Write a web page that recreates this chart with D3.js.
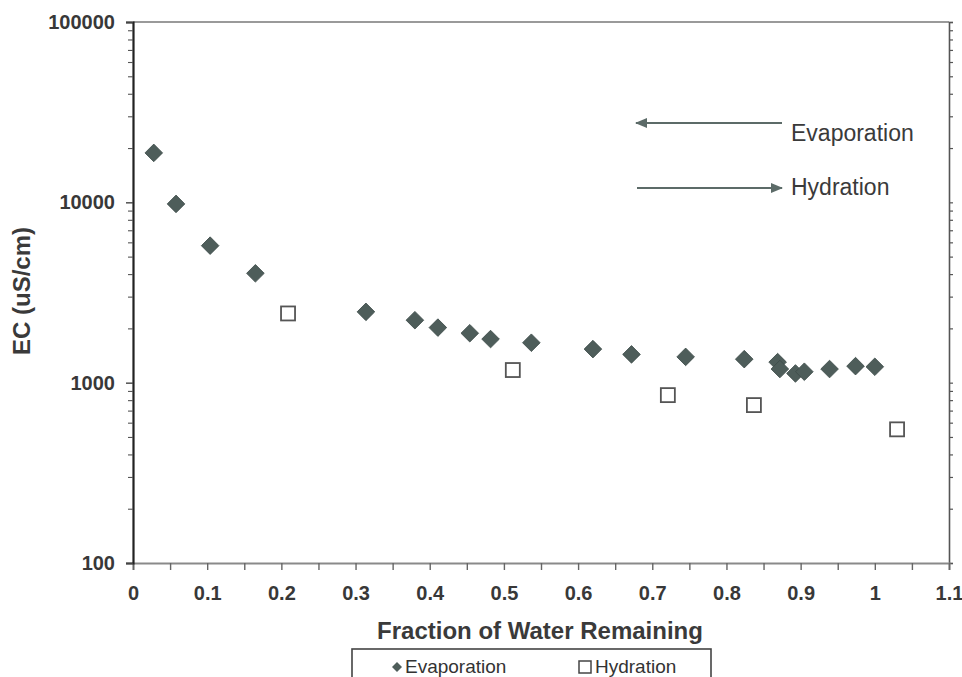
<!DOCTYPE html>
<html>
<head>
<meta charset="utf-8">
<script src="https://cdn.jsdelivr.net/npm/d3@7"></script>
<style>
  html, body { margin: 0; padding: 0; background: #fff; }
  svg { display: block; font-family: "Liberation Sans", Arial, sans-serif; }
</style>
</head>
<body>
<svg id="chart" width="962" height="677"></svg>
<script>
// ---- data ----
const evapX = [0.028, 0.058, 0.104, 0.165, 0.314, 0.380, 0.411, 0.454, 0.482, 0.537, 0.620, 0.672, 0.745, 0.824, 0.869, 0.872, 0.893, 0.905, 0.939, 0.974, 1.000];
const evapY = [18800, 9800, 5750, 4040, 2470, 2220, 2020, 1880, 1745, 1665, 1535, 1435, 1390, 1350, 1300, 1190, 1125, 1150, 1190, 1235, 1225];
const hydX = [0.209, 0.512, 0.721, 0.837, 1.030];
const hydY = [2420, 1175, 853, 751, 551];
const xTickLabels = ["0", "0.1", "0.2", "0.3", "0.4", "0.5", "0.6", "0.7", "0.8", "0.9", "1", "1.1"];
const yTickLabels = ["100", "1000", "10000", "100000"];
const seriesNames = ["Evaporation", "Hydration"];
const xTitle = "Fraction of Water Remaining";
const yTitle = "EC (uS/cm)";

// ---- layout ----
const svg = d3.select("#chart");
const L = 133, R = 949, T = 22, B = 563;
const x = d3.scaleLinear().domain([0, 1.1]).range([L, R]);
const y = d3.scaleLog().domain([100, 100000]).range([B, T]);
const fillDark = "#4e5d5a";

// minor tick values
const majorY = yTickLabels.map(Number);
const minorY = [];
majorY.slice(0, -1).forEach(d => { for (let k = 2; k <= 9; k++) minorY.push(d * k); });
const xMajor = xTickLabels.map(Number);
const xAll = [];
xMajor.forEach((d, i) => { xAll.push(d); if (i < xMajor.length - 1) xAll.push(+(d + 0.05).toFixed(2)); });

// top border
svg.append("line").attr("x1", L).attr("x2", R).attr("y1", T).attr("y2", T)
  .attr("stroke", "#9a9a9a").attr("stroke-width", 2);

// right axis (mirrored ticks)
const gR = svg.append("g").attr("transform", `translate(${R},0)`)
  .call(d3.axisRight(y).tickValues(majorY.concat(minorY)).tickSize(4).tickFormat(""));
gR.select(".domain").attr("stroke", "#555").attr("stroke-width", 1.6);
gR.selectAll(".tick line").attr("stroke", "#555").attr("stroke-width", 1.2);

// bottom axis
const gx = svg.append("g").attr("transform", `translate(0,${B})`)
  .call(d3.axisBottom(x).tickValues(xAll).tickSize(7)
    .tickFormat(d => { const i = xMajor.indexOf(d); return i >= 0 ? xTickLabels[i] : ""; }));
gx.select(".domain").attr("stroke", "#8a8a8a").attr("stroke-width", 2);
gx.selectAll(".tick line").attr("stroke", "#666").attr("stroke-width", 1.4);
gx.selectAll(".tick text").attr("y", 37).attr("dy", null)
  .attr("font-size", 20).attr("font-weight", "bold").attr("fill", "#383838");

// left axis major
const gy = svg.append("g").attr("transform", `translate(${L},0)`)
  .call(d3.axisLeft(y).tickValues(majorY).tickSize(7).tickPadding(11)
    .tickFormat((d, i) => yTickLabels[i]));
gy.select(".domain").attr("stroke", "#222").attr("stroke-width", 2.2);
gy.selectAll(".tick line").attr("stroke", "#444").attr("stroke-width", 1.4);
gy.selectAll(".tick text").attr("font-size", 20).attr("font-weight", "bold").attr("fill", "#383838");
// left axis minor
const gym = svg.append("g").attr("transform", `translate(${L},0)`)
  .call(d3.axisLeft(y).tickValues(minorY).tickSize(5).tickFormat(""));
gym.select(".domain").remove();
gym.selectAll(".tick line").attr("stroke", "#555").attr("stroke-width", 1.1);

// titles
svg.append("text").attr("x", 540).attr("y", 639).attr("text-anchor", "middle")
  .attr("font-size", 24).attr("font-weight", "bold").attr("fill", "#3a3a3a").text(xTitle);
svg.append("text").attr("transform", "translate(30,291) rotate(-90)").attr("text-anchor", "middle")
  .attr("font-size", 24).attr("font-weight", "bold").attr("fill", "#3a3a3a").text(yTitle);

// data points
const evap = evapX.map((d, i) => ({ x: d, y: evapY[i] }));
const hyd = hydX.map((d, i) => ({ x: d, y: hydY[i] }));
svg.append("g").selectAll("path").data(evap).join("path")
  .attr("d", d3.symbol(d3.symbolSquare, 155)())
  .attr("transform", d => `translate(${x(d.x)},${y(d.y)}) rotate(45)`)
  .attr("fill", fillDark).attr("stroke", "#3f4d4a").attr("stroke-width", 0.8);
svg.append("g").selectAll("rect").data(hyd).join("rect")
  .attr("x", d => x(d.x) - 7).attr("y", d => y(d.y) - 7)
  .attr("width", 14).attr("height", 14)
  .attr("fill", "#fff").attr("stroke", "#555").attr("stroke-width", 1.8);

// annotation arrows
const defs = svg.append("defs");
defs.append("marker").attr("id", "ah").attr("viewBox", "0 0 12 10")
  .attr("refX", 11).attr("refY", 5).attr("markerWidth", 12).attr("markerHeight", 10)
  .attr("markerUnits", "userSpaceOnUse").attr("orient", "auto")
  .attr("preserveAspectRatio", "none")
  .append("path").attr("d", "M0,0 L12,5 L0,10 Z").attr("fill", "#5c6b68");
svg.append("line").attr("x1", 782).attr("y1", 123).attr("x2", 636).attr("y2", 123)
  .attr("stroke", "#5c6b68").attr("stroke-width", 2).attr("marker-end", "url(#ah)");
svg.append("line").attr("x1", 637).attr("y1", 188).attr("x2", 782).attr("y2", 188)
  .attr("stroke", "#5c6b68").attr("stroke-width", 2).attr("marker-end", "url(#ah)");
svg.append("text").attr("x", 791).attr("y", 141).attr("font-size", 23).attr("fill", "#3a3a3a").text(seriesNames[0]);
svg.append("text").attr("x", 791).attr("y", 195).attr("font-size", 23).attr("fill", "#3a3a3a").text(seriesNames[1]);

// legend
const lg = svg.append("g");
lg.append("rect").attr("x", 352).attr("y", 649).attr("width", 359).attr("height", 40)
  .attr("fill", "#fff").attr("stroke", "#444").attr("stroke-width", 1.6);
lg.append("path").attr("d", d3.symbol(d3.symbolSquare, 50)())
  .attr("transform", "translate(397,667) rotate(45)").attr("fill", fillDark);
lg.append("text").attr("x", 405).attr("y", 673).attr("font-size", 19).attr("fill", "#333").text(seriesNames[0]);
lg.append("rect").attr("x", 579).attr("y", 661).attr("width", 12).attr("height", 12)
  .attr("fill", "#fff").attr("stroke", "#444").attr("stroke-width", 1.5);
lg.append("text").attr("x", 595).attr("y", 673).attr("font-size", 19).attr("fill", "#333").text(seriesNames[1]);
</script>
</body>
</html>
